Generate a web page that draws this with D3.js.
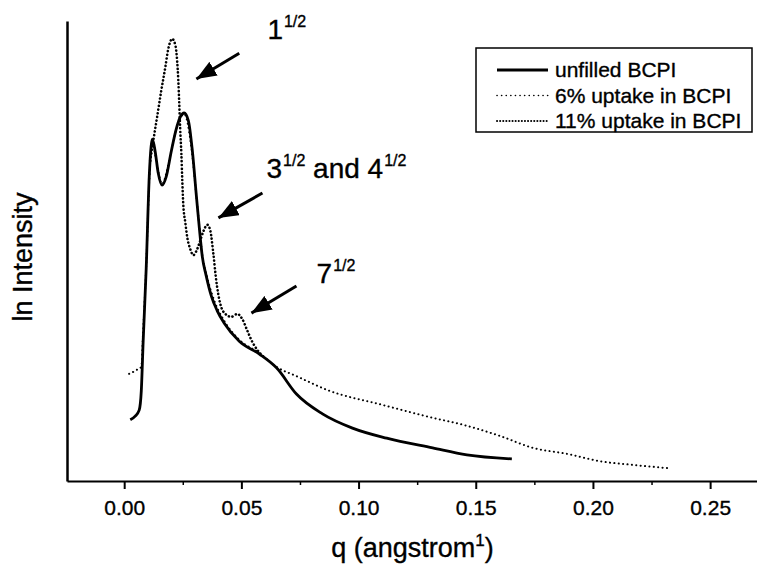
<!DOCTYPE html>
<html>
<head>
<meta charset="utf-8">
<script src="https://cdn.jsdelivr.net/npm/d3@7"></script>
<style>
  body { margin: 0; background: #fff; }
  svg { display: block; font-family: "Liberation Sans", Arial, sans-serif; }
  text { fill: #000; stroke: #000; stroke-width: 0.35px; }
</style>
</head>
<body>
<div id="chart"></div>
<script>
// q in 1/angstrom, intensity in arbitrary ln units
const unfilledQ = [0.0026, 0.0047, 0.0064, 0.0073, 0.0081, 0.0094, 0.0107, 0.0115, 0.0120, 0.0132,
  0.0145, 0.0162, 0.0179, 0.0201, 0.0222, 0.0239, 0.0256, 0.0274, 0.0291, 0.0308, 0.0321, 0.0333,
  0.0350, 0.0372, 0.0397, 0.0427, 0.0491, 0.0577, 0.0650, 0.0735, 0.0846, 0.0974, 0.1120, 0.1316,
  0.1462, 0.1654];
const unfilledI = [1.33, 1.41, 1.54, 1.96, 3.04, 4.63, 6.63, 7.28, 7.43, 7.17,
  6.70, 6.43, 6.61, 7.17, 7.65, 7.91, 8.00, 7.83, 7.17, 6.20, 5.48, 4.89,
  4.46, 4.02, 3.70, 3.43, 3.04, 2.76, 2.46, 1.89, 1.46, 1.15, 0.93, 0.72,
  0.57, 0.48];

const uptake6Q = [0.0021, 0.0038, 0.0051, 0.0073, 0.0081, 0.0094, 0.0107, 0.0120, 0.0137, 0.0162,
  0.0192, 0.0222, 0.0256, 0.0286, 0.0312, 0.0333, 0.0355, 0.0385, 0.0427, 0.0491, 0.0577, 0.0650,
  0.0735, 0.0876, 0.1090, 0.1303, 0.1462, 0.1603, 0.1744, 0.1889, 0.2030, 0.2171, 0.2321];
const uptake6I = [2.33, 2.37, 2.41, 2.48, 3.26, 4.67, 6.52, 7.39, 6.96, 6.46,
  6.96, 7.63, 7.98, 7.28, 5.98, 4.93, 4.41, 3.91, 3.48, 3.07, 2.78, 2.48,
  2.28, 1.96, 1.67, 1.39, 1.20, 0.98, 0.72, 0.59, 0.43, 0.35, 0.28];

const uptake11Q = [0.0111, 0.0124, 0.0141, 0.0158, 0.0175, 0.0188, 0.0205, 0.0218, 0.0226, 0.0231,
  0.0235, 0.0239, 0.0244, 0.0248, 0.0252, 0.0261, 0.0269, 0.0282, 0.0295, 0.0308, 0.0321, 0.0338,
  0.0355, 0.0368, 0.0380, 0.0393, 0.0410, 0.0432, 0.0457, 0.0483, 0.0504, 0.0526, 0.0547, 0.0568,
  0.0590];
const uptake11I = [6.96, 7.39, 7.93, 8.48, 8.98, 9.39, 9.61, 9.48, 9.13, 8.70,
  8.20, 7.65, 7.11, 6.52, 6.02, 5.61, 5.30, 5.04, 4.91, 5.00, 5.17, 5.43,
  5.57, 5.43, 4.96, 4.35, 3.85, 3.63, 3.57, 3.63, 3.52, 3.26, 3.02, 2.85,
  2.72];

const xTicks = [0.00, 0.05, 0.10, 0.15, 0.20, 0.25];
const xMinorTicks = [0.025, 0.075, 0.125, 0.175, 0.225];

const seriesNames = ["unfilled BCPI", "6% uptake in BCPI", "11% uptake in BCPI"];

// peak annotations: label base, superscript, arrow tail -> tip (data units)
const annoMain = ["1", "3", "7"];
const annoRest = [[["1/2", ""]], [["1/2", " and 4"], ["1/2", ""]], [["1/2", ""]]];
const annoLabelQ = [0.0611, 0.0607, 0.0821];
const annoLabelI = [9.61, 6.59, 4.30];
const arrowTailQ = [0.0491, 0.0590, 0.0735];
const arrowTailI = [9.30, 6.26, 4.24];
const arrowTipQ = [0.0308, 0.0402, 0.0543];
const arrowTipI = [8.74, 5.72, 3.65];

const W = 757, H = 569;
const margin = { left: 69, right: 0, top: 21, bottom: 88 };

const svg = d3.select("#chart").append("svg")
  .attr("width", W)
  .attr("height", H)
  .attr("viewBox", "0 0 " + W + " " + H);

const x = d3.scaleLinear().domain([-0.0244, 0.27]).range([margin.left - 2, W]);
const y = d3.scaleLinear().domain([0, 10]).range([H - margin.bottom, margin.top]);

// x axis: majors with labels, minor ticks between
const xAxis = svg.append("g")
  .attr("transform", "translate(0," + y(0) + ")")
  .call(d3.axisBottom(x).tickValues(xTicks).tickFormat(d3.format(".2f")).tickSize(8).tickSizeOuter(0));
xAxis.select(".domain").attr("stroke", "#000").attr("stroke-width", 2.2);
xAxis.selectAll(".tick line").attr("stroke-width", 2);
xAxis.selectAll(".tick text")
  .attr("y", 19)
  .style("font-size", "21px")
  .style("font-family", "Liberation Sans, Arial, sans-serif");

svg.append("g")
  .attr("transform", "translate(0," + y(0) + ")")
  .call(d3.axisBottom(x).tickValues(xMinorTicks).tickFormat("").tickSize(4).tickSizeOuter(0))
  .call(g => g.select(".domain").remove())
  .selectAll(".tick line").attr("stroke-width", 1.5);

// y axis: plain line, no ticks
svg.append("g")
  .attr("transform", "translate(" + x(-0.0244) + ",0)")
  .call(d3.axisLeft(y).tickValues([]).tickSizeOuter(0))
  .select(".domain").attr("stroke", "#000").attr("stroke-width", 2.5);

// axis titles
svg.append("text")
  .attr("transform", "translate(32," + (y(5) + 6) + ") rotate(-90)")
  .attr("text-anchor", "middle")
  .style("font-size", "27px")
  .text("ln Intensity");

const xt = svg.append("text")
  .attr("x", x(0.123))
  .attr("y", 557)
  .attr("text-anchor", "middle")
  .style("font-size", "27px");
xt.append("tspan").text("q (angstrom");
xt.append("tspan").attr("dy", -11).style("font-size", "17px").text("1");
xt.append("tspan").attr("dy", 11).text(")");

// curves
const line = d3.line()
  .x(d => x(d[0]))
  .y(d => y(d[1]))
  .curve(d3.curveMonotoneX);

const zip = (a, b) => a.map((v, i) => [v, b[i]]);

svg.append("path")
  .datum(zip(uptake6Q, uptake6I))
  .attr("fill", "none")
  .attr("stroke", "#000")
  .attr("stroke-width", 2)
  .attr("stroke-linecap", "round")
  .attr("stroke-dasharray", "0.1,4.3")
  .attr("d", line);

svg.append("path")
  .datum(zip(uptake11Q, uptake11I))
  .attr("fill", "none")
  .attr("stroke", "#000")
  .attr("stroke-width", 2.6)
  .attr("stroke-linecap", "round")
  .attr("stroke-dasharray", "0.1,3.6")
  .attr("d", line);

svg.append("path")
  .datum(zip(unfilledQ, unfilledI))
  .attr("fill", "none")
  .attr("stroke", "#000")
  .attr("stroke-width", 2.8)
  .attr("stroke-linejoin", "round")
  .attr("d", line);

// arrows
svg.append("defs").append("marker")
  .attr("id", "head")
  .attr("markerUnits", "userSpaceOnUse")
  .attr("viewBox", "0 0 20 16")
  .attr("refX", 20).attr("refY", 8)
  .attr("markerWidth", 20).attr("markerHeight", 16)
  .attr("orient", "auto")
  .append("path").attr("d", "M0,0 L20,8 L0,16 Z").attr("fill", "#000");

annoMain.forEach((m, i) => {
  svg.append("line")
    .attr("x1", x(arrowTailQ[i])).attr("y1", y(arrowTailI[i]))
    .attr("x2", x(arrowTipQ[i])).attr("y2", y(arrowTipI[i]))
    .attr("stroke", "#000").attr("stroke-width", 3)
    .attr("marker-end", "url(#head)");

  const t = svg.append("text")
    .attr("x", x(annoLabelQ[i]))
    .attr("y", y(annoLabelI[i]))
    .style("font-size", "28px");
  t.append("tspan").text(m);
  annoRest[i].forEach(([sup, rest]) => {
    t.append("tspan").attr("dy", -12).attr("dx", 1).style("font-size", "16px").text(sup);
    t.append("tspan").attr("dy", 12).text(rest);
  });
});

// legend
const lg = svg.append("g").attr("transform", "translate(476,48)");
lg.append("rect")
  .attr("width", 276).attr("height", 84)
  .attr("fill", "#fff").attr("stroke", "#000").attr("stroke-width", 1.5);
const sampleDash = [null, "0.1,4.5", "0.1,3"];
const sampleWidth = [2.8, 1.6, 2];
seriesNames.forEach((name, i) => {
  const cy = 22 + i * 25.5;
  lg.append("line")
    .attr("x1", 21).attr("x2", 72).attr("y1", cy).attr("y2", cy)
    .attr("stroke", "#000")
    .attr("stroke-width", sampleWidth[i])
    .attr("stroke-linecap", i ? "round" : "butt")
    .attr("stroke-dasharray", sampleDash[i]);
  lg.append("text")
    .attr("x", 79).attr("y", cy)
    .attr("dy", "0.35em")
    .style("font-size", "21px")
    .text(name);
});
</script>
</body>
</html>
